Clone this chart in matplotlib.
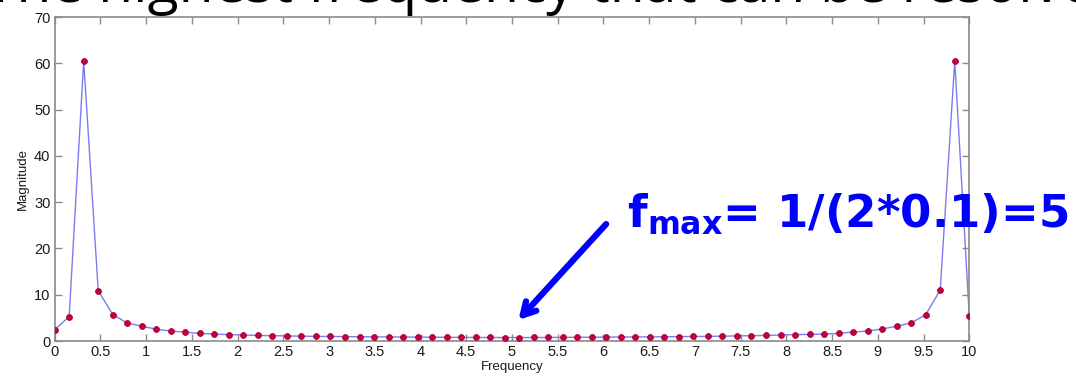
import numpy as np
import matplotlib
matplotlib.use("Agg")
import matplotlib.pyplot as plt

# 64 evenly spaced frequency bins from 0 to 10
freq = np.linspace(0, 10, 64)
magnitude = [
    2.45, 5.25, 60.5, 10.9, 5.7, 3.9, 3.2, 2.55, 2.15, 1.9,
    1.65, 1.5, 1.38, 1.3, 1.2, 1.15, 1.1, 1.05, 1.0, 0.98,
    0.95, 0.92, 0.9, 0.88, 0.86, 0.84, 0.82, 0.8, 0.78, 0.77,
    0.76, 0.75, 0.75, 0.76, 0.77, 0.78, 0.8, 0.82, 0.84,
    0.86, 0.88, 0.9, 0.92, 0.95, 0.98, 1.0, 1.05, 1.1, 1.15,
    1.2, 1.3, 1.38, 1.43, 1.5, 1.65, 1.94, 2.15, 2.6, 3.2,
    3.9, 5.7, 11.0, 60.5, 5.4,
]

xticks = np.arange(0, 10.01, 0.5)
xticklabels = ["%g" % t for t in xticks]
yticks = np.arange(0, 71, 10)

title_text = "The highest frequency that can be resolved"
note_main = "= 1/(2*0.1)=5"

plt.rcParams["font.family"] = ["Liberation Sans", "DejaVu Sans"]

fig = plt.figure(figsize=(10.76, 3.8), dpi=100)
ax = fig.add_axes([0.0508, 0.1026, 0.85, 0.8526])

ax.plot(freq, magnitude, color="#7c7cf0", lw=1.0, zorder=2)
ax.plot(freq, magnitude, ls="none", marker="o", ms=4.2,
        mfc="#c8003c", mec="#a00030", mew=0.6, zorder=3)

ax.set_xlim(0, 10)
ax.set_ylim(0, 70)
ax.set_xticks(xticks)
ax.set_xticklabels(xticklabels)
ax.set_yticks(yticks)
for s in ax.spines.values():
    s.set_color("#8a8a8a")
    s.set_linewidth(1.2)
ax.tick_params(direction="in", length=5, width=1, color="#8a8a8a",
               top=True, right=True, labelsize=10.5, labelcolor="#1a1a1a",
               pad=3)
ax.set_xlabel("Frequency", fontsize=9.5, labelpad=1, color="#1a1a1a")
ax.set_ylabel("Magnitude", fontsize=9.5, labelpad=4, color="#1a1a1a")

# arrow pointing at f = 5
ax.annotate("", xy=(5.05, 4.1), xytext=(6.05, 25.7),
            arrowprops=dict(arrowstyle="->,head_length=0.9,head_width=0.5",
                            color="#0000ff", lw=4.5),
            annotation_clip=False)
ax.text(6.26, 24.6, r"$\mathbf{f}_{\mathbf{max}}$" + note_main,
        color="#0000ff", fontsize=32.5, fontweight="bold",
        family="DejaVu Sans", va="baseline", ha="left", clip_on=False)

# slide heading, running off the top edge
fig.text(-0.014, 1 - 2 / 380, title_text, fontsize=41,
         family="Open Sans", va="baseline", ha="left", color="black")

fig.savefig("out.png", dpi=100)
